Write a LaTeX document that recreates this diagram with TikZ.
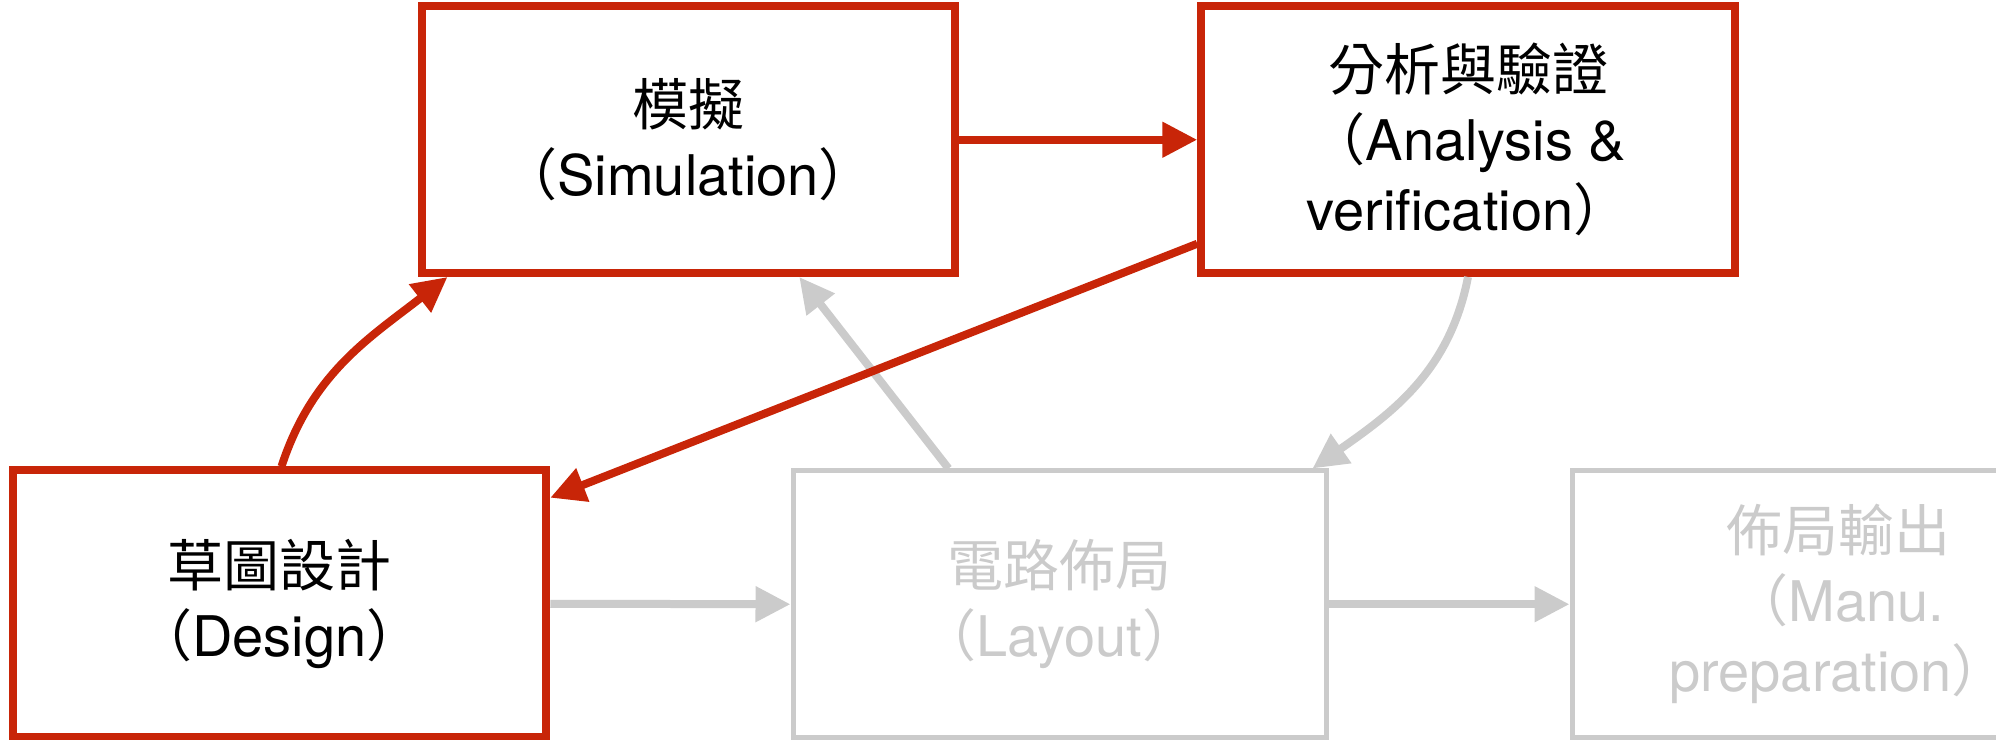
\documentclass[tikz,border=0pt]{standalone}
\usepackage{fontspec}
\setmainfont{TeX Gyre Heros}
\newfontfamily\cjk{Noto Sans CJK TC}
\usetikzlibrary{arrows.meta}
\definecolor{kred}{RGB}{200,37,8}
\definecolor{kgray}{RGB}{203,203,203}
\newcommand{\zh}[1]{{\cjk #1}}
\tikzset{
  redbox/.style={draw=kred, line width=8pt, rectangle, inner sep=0pt,
    minimum width=533.5pt, minimum height=266.5pt, align=center, text=black,
    font=\fontsize{56pt}{70pt}\selectfont},
  graybox/.style={draw=kgray, line width=5pt, rectangle, inner sep=0pt,
    minimum width=533pt, minimum height=266.5pt, align=center, text=kgray,
    font=\fontsize{56pt}{70pt}\selectfont},
  redarrow/.style={draw=kred, line width=8pt, -{Triangle[length=35pt,width=34pt]}},
  grayarrow/.style={draw=kgray, line width=8pt, -{Triangle[length=35pt,width=34pt]}}
}
\begin{document}
\begin{tikzpicture}[x=1pt,y=1pt]
\useasboundingbox (0,0) rectangle (1996,739);
\node[redbox] (sim) at (688.25,599.25) {\zh{模擬}\\\zh{（}Simulation\zh{）}};
\node[redbox] (ana) at (1468,599.25) {\zh{分析與驗證}\\\zh{（}Analysis \&\\verification\zh{）}};
\node[redbox] (des) at (279.5,135.25) {\zh{草圖設計}\\\zh{（}Design\zh{）}};
\node[graybox] (lay) at (1059.5,134.75) {\zh{電路佈局}\\\zh{（}Layout\zh{）}};
\node[graybox] (man) at (1838.5,134.75) {\zh{佈局輸出}\\\zh{（}Manu.\\preparation\zh{）}};
% gray connectors
\draw[grayarrow] (des.east) -- (lay.west);
\draw[grayarrow] (lay.east) -- (man.west);
\draw[grayarrow] ([xshift=-111pt]lay.north) -- ([xshift=111pt]sim.south);
\draw[grayarrow] (ana.south) to[out=259,in=35] ([xshift=-16pt]lay.north east);
% red connectors
\draw[redarrow] (sim.east) -- (ana.west);
\draw[redarrow] ([yshift=-104pt]ana.west) -- ([yshift=106pt]des.east);
\draw[redarrow] ([xshift=2pt]des.north) to[out=72,in=218] ([xshift=30pt]sim.south west);
\end{tikzpicture}
\end{document}
